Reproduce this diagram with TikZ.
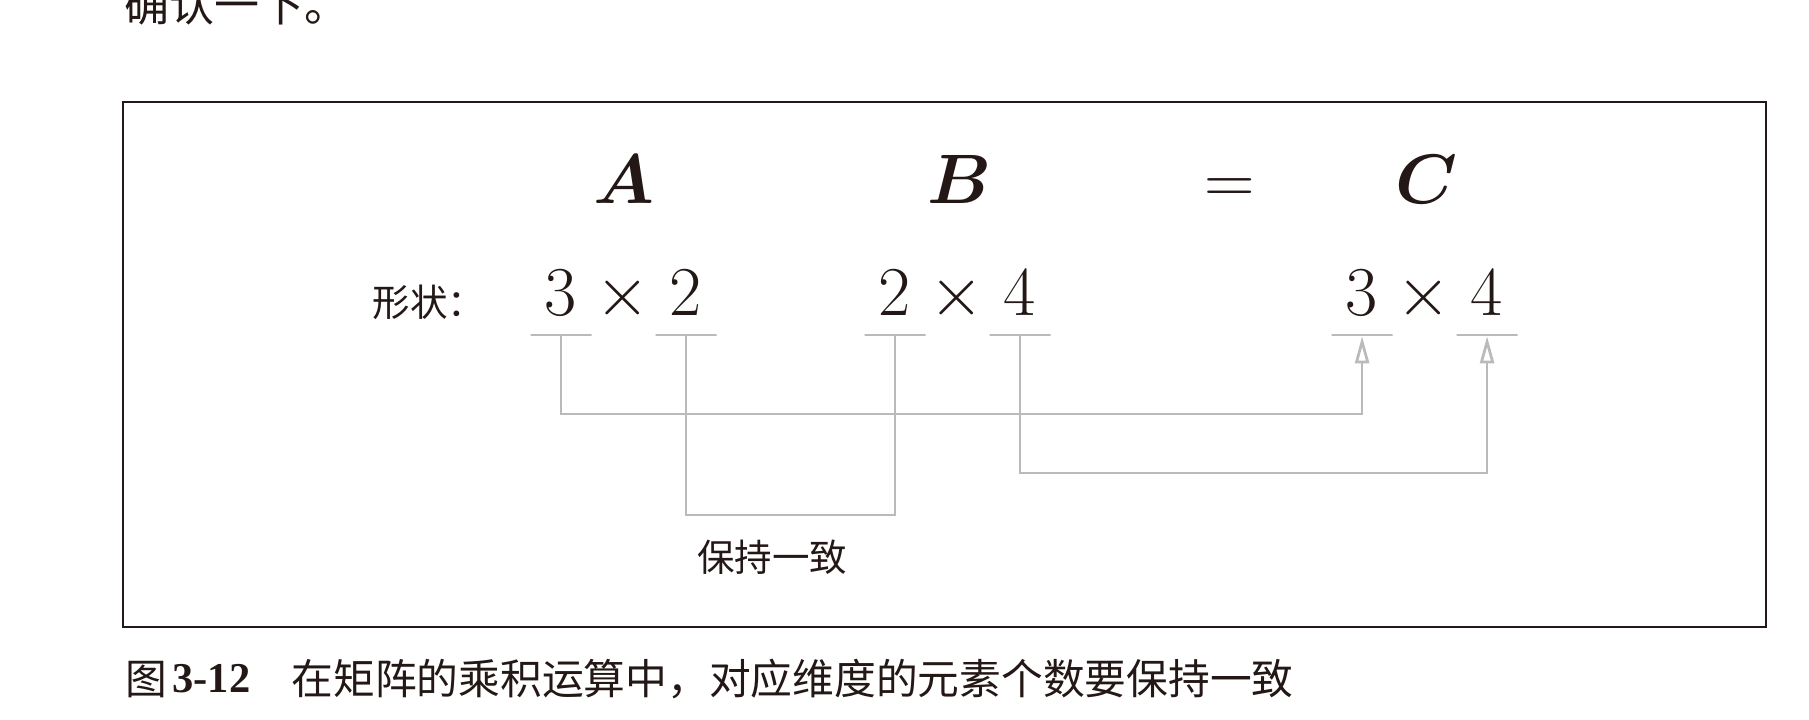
\documentclass[tikz,border=0pt]{standalone}
\usepackage{fix-cm}
\usepackage{bm}
\usepackage{fontspec}
\newfontfamily\cjk{Noto Sans CJK SC}
\newfontfamily\numfont{Liberation Serif}
\usetikzlibrary{arrows.meta}
\definecolor{ink}{RGB}{35,24,21}
\definecolor{guide}{RGB}{186,186,186}

\begin{document}
\begin{tikzpicture}[x=0.4pt,y=-0.4pt,
  big/.style={inner sep=0,anchor=base,text=ink,font=\fontsize{28}{34}\selectfont},
  zh/.style={inner sep=0,text=ink,font=\cjk\fontsize{15}{18}\selectfont},
  bar/.style={draw=guide,line width=1.1pt,inner sep=0,minimum height=0,minimum width=24.4pt},
  link/.style={draw=guide,line width=1.1pt},
  tip/.style={-{Triangle[open,length=10.8pt,width=5.6pt]}}]
\useasboundingbox (0,0) rectangle (1809,720);

\node[zh,anchor=base west,font=\cjk\fontsize{18}{22}\selectfont] (prev) at (124,21) {确认一下。};
\draw[ink,line width=0.8pt] (123,101.5) rectangle (1766,626.5);

\node[big] (A) at (624,203) {$\bm{A}$};
\node[big] (B) at (960,203) {$\bm{B}$};
\node[big] (eq) at (1230,203) {$=$};
\node[big] (C) at (1427,203) {$\bm{C}$};

\node[zh,anchor=west] (shape) at (372,302) {形状：};
\foreach \m/\x/\r/\c in {a/561/3/2,b/895/2/4,c/1362/3/4}
{\node[big] (\m1) at (\x,315) {$\r$};
\node[big] (\m0) at (\x+62,315) {$\times$};
\node[big] (\m2) at (\x+125,315) {$\c$};
\node[bar] (\m1b) at (\x,335) {};
\node[bar] (\m2b) at (\x+125,335) {};
}

\draw[link,tip] (a1b) -- ++(0,79) -| ([xshift=2.4pt]c1b);
\draw[link] (a2b) -- ++(0,180) -| (b1b);
\draw[link,tip] (b2b) -- ++(0,138) -| ([xshift=2.4pt]c2b);
\node[zh] (keep) at (772,557) {保持一致};

\node[zh,anchor=base west,font=\cjk\fontsize{16.7}{20}\selectfont] (fig) at (125,694) {图};
\node[zh,anchor=base west,font=\numfont\bfseries\fontsize{17}{20}\selectfont] (fignum) at (172,692) {3-12};
\node[zh,anchor=base west,font=\cjk\fontsize{16.7}{20}\selectfont] (cap) at (291,694) {在矩阵的乘积运算中，对应维度的元素个数要保持一致};
\end{tikzpicture}
\end{document}
